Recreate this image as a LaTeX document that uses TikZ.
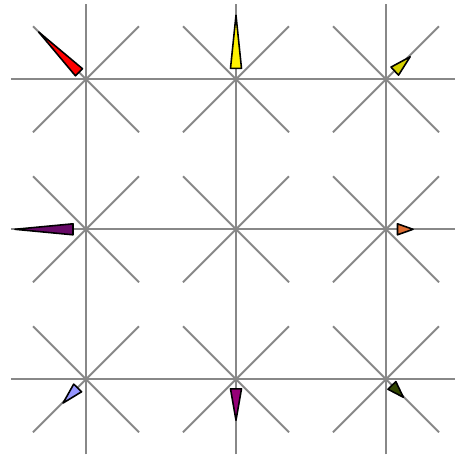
\documentclass[tikz,border=0pt]{standalone}
\usepackage{tikz}
\definecolor{raygray}{RGB}{136,136,136}
\definecolor{olivey}{RGB}{212,208,0}
\definecolor{darkpurple}{RGB}{104,10,104}
\definecolor{burnt}{RGB}{222,110,50}
\definecolor{periwinkle}{RGB}{150,150,255}
\definecolor{plum}{RGB}{150,0,120}
\definecolor{darkolive}{RGB}{50,70,0}
\tikzset{
  star/.style={raygray, line width=1.1pt},
  needle/.style={draw=black, line width=0.9pt, line join=round}
}
\begin{document}
\begin{tikzpicture}
    % grille 3x3 : pas de 3 cm, rayons de 1.5 cm
    \def\gap{3}
    \def\ray{1.5}
    \def\diag{1.06}
    \useasboundingbox (-1.72,-7.554) rectangle (7.38,1.586);
    \clip (-1.72,-7.554) rectangle (7.38,1.586);

    % les etoiles grises
    \foreach \i in {0,1,2}{
      \foreach \j in {0,1,2}{
        \begin{scope}[shift={(\i*\gap,-\j*\gap)}]
        \draw[star] (-\ray,0) -- (\ray,0);
        \draw[star] (0,-\ray) -- (0,\ray);
        \draw[star] (-\diag,-\diag) -- (\diag,\diag);
        \draw[star] (-\diag,\diag) -- (\diag,-\diag);
        \end{scope}
      }
    }

    % les aiguilles : base a 0.22, pointe a la longueur donnee
 \begin{scope}[shift={(0,0)},rotate=135]
 \draw[needle,fill=red] (0.2,0.1) -- (1.34,0) -- (0.2,-0.1) -- cycle;
 \end{scope}

 \begin{scope}[shift={(3,0)},rotate=90]
 \draw[needle,fill=yellow] (0.22,0.11) -- (1.28,0) -- (0.22,-0.11) -- cycle;
 \end{scope}

 \begin{scope}[shift={(6,0)},rotate=43]
 \draw[needle,fill=olivey] (0.24,0.11) -- (0.66,0) -- (0.24,-0.11) -- cycle;
 \end{scope}

 \begin{scope}[shift={(0,-3)},rotate=180]
 \draw[needle,fill=darkpurple] (0.26,0.11) -- (1.42,0) -- (0.26,-0.11) -- cycle;
 \end{scope}

 \begin{scope}[shift={(6,-3)},rotate=0]
 \draw[needle,fill=burnt] (0.23,0.11) -- (0.54,0) -- (0.23,-0.11) -- cycle;
 \end{scope}

 \begin{scope}[shift={(0,-6)},rotate=226]
 \draw[needle,fill=periwinkle] (0.24,0.11) -- (0.66,0) -- (0.24,-0.11) -- cycle;
 \end{scope}

 \begin{scope}[shift={(3,-6)},rotate=270]
 \draw[needle,fill=plum] (0.19,0.11) -- (0.82,0) -- (0.19,-0.11) -- cycle;
 \end{scope}

 \begin{scope}[shift={(6,-6)},rotate=314]
 \draw[needle,fill=darkolive] (0.17,0.11) -- (0.5,0) -- (0.17,-0.11) -- cycle;
 \end{scope}
\end{tikzpicture}
\end{document}
